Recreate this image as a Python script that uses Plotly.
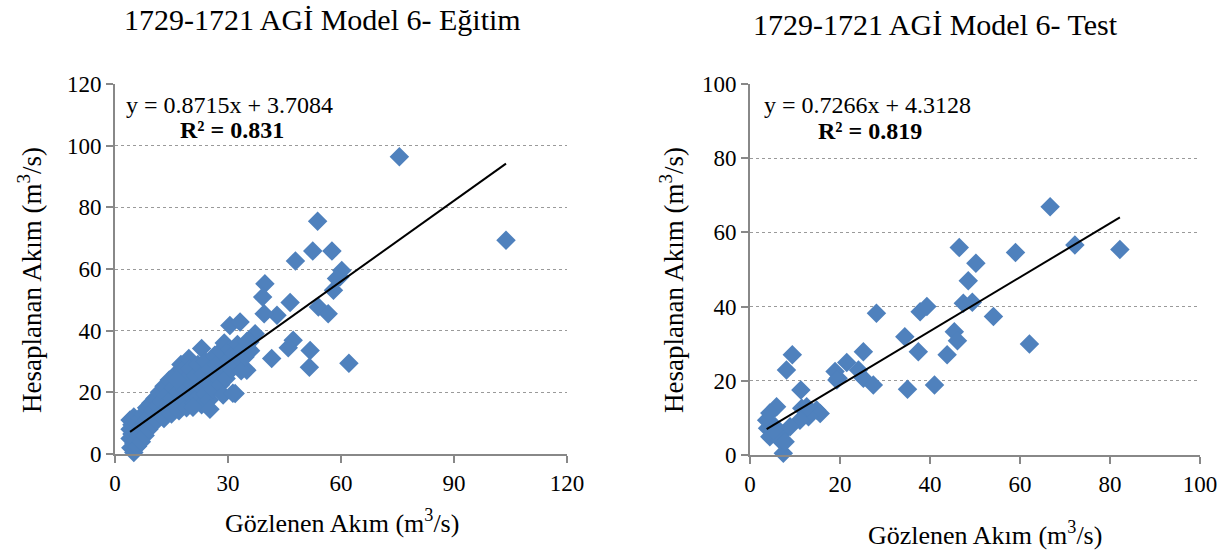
import plotly.graph_objects as go

# ---------------- data ----------------
train_obs = [75.5, 103.8, 53.8, 52.5, 57.6, 47.9, 60.2, 59.7, 58.8, 58.0, 46.5, 54.0, 56.6, 47.3, 46.0,
             51.8, 51.6, 62.1, 43.0, 39.8, 39.2, 39.6, 30.5, 33.2, 37.2, 35.8, 41.6, 23.0, 35.0, 31.9,
             4.0, 4.0, 4.0, 4.2, 4.5, 4.5, 5.0, 5.0, 5.0, 5.2, 5.5, 5.8, 6.0, 6.0, 6.3, 6.8, 7.0, 7.2,
             7.5, 8.0, 8.0, 8.4, 9.0, 9.0, 9.5, 10.0, 10.0, 10.6, 11.0, 11.2, 11.8, 12.0, 12.5, 13.0,
             13.0, 13.6, 14.0, 14.4, 15.0, 15.0, 15.5, 16.0, 16.2, 16.8, 17.0, 17.0, 17.5, 18.0, 18.0,
             18.5, 19.0, 19.0, 19.6, 20.0, 20.0, 20.7, 21.0, 21.5, 22.0, 22.0, 22.6, 23.0, 23.5, 24.0,
             24.0, 24.8, 25.0, 25.2, 26.0, 26.5, 27.0, 27.0, 28.0, 28.0, 28.7, 29.0, 29.5, 30.0, 30.5,
             31.0, 31.5, 32.0, 32.5, 33.0, 33.5, 34.0, 34.5, 35.0, 36.0, 20.7, 25.2, 28.7, 31.3, 16.4]
train_pred = [96.4, 69.3, 75.5, 65.8, 65.8, 62.6, 59.5, 57.4, 56.9, 53.1, 49.1, 47.7, 45.5, 36.9, 34.5,
              33.6, 28.1, 29.4, 45.0, 55.2, 50.9, 45.5, 41.7, 42.8, 39.0, 36.3, 31.0, 34.2, 27.2, 19.6,
              8.0, 5.0, 11.0, 2.0, 9.5, 6.5, 0.5, 3.5, 12.0, 7.5, 4.5, 10.0, 2.5, 8.0, 6.0, 11.5, 4.0, 8.5,
              13.0, 6.0, 10.5, 15.0, 8.0, 12.0, 16.5, 9.5, 14.0, 18.0, 11.0, 15.5, 20.0, 13.0, 17.0, 22.0,
              11.5, 19.0, 15.0, 24.0, 13.0, 18.0, 21.5, 16.0, 26.0, 20.0, 14.0, 23.5, 29.0, 17.5, 27.0,
              21.0, 15.0, 24.5, 31.0, 19.0, 27.5, 22.5, 16.5, 25.5, 18.5, 29.0, 22.0, 16.0, 26.0, 19.5,
              30.0, 23.0, 17.5, 27.5, 21.0, 32.0, 25.0, 29.0, 22.5, 33.5, 27.0, 36.0, 24.5, 30.5, 34.0,
              27.5, 32.5, 29.5, 35.5, 31.0, 27.0, 34.0, 31.5, 36.5, 33.5, 15.2, 14.5, 19.1, 19.7, 24.0]
train_slope, train_intercept, train_r2 = 0.8715, 3.7084, 0.831

test_obs = [66.7, 46.5, 59.0, 72.2, 82.2, 50.2, 48.5, 47.4, 49.4, 54.1, 45.4, 46.1, 43.8, 62.1, 41.0,
            28.1, 37.8, 39.3, 34.4, 37.4, 25.2, 21.5, 24.1, 18.9, 19.6, 25.2, 27.4, 35.0, 9.4, 8.1,
            11.3, 11.5, 14.8, 15.6, 13.0, 11.1, 5.9, 3.7, 3.9, 4.4, 7.0, 7.4, 6.7, 8.9, 5.6, 4.4,
            12.6, 5.2, 7.8, 19.3]
test_pred = [66.9, 55.9, 54.6, 56.6, 55.4, 51.7, 47.0, 40.9, 41.2, 37.3, 33.2, 30.8, 27.0, 29.9, 18.9,
             38.2, 38.6, 40.0, 31.9, 27.8, 27.8, 24.9, 22.9, 22.5, 20.7, 20.7, 18.9, 17.7, 27.0, 22.9,
             17.5, 12.6, 12.1, 11.2, 10.3, 9.4, 13.0, 9.4, 7.2, 4.9, 5.8, 0.5, 4.0, 7.6, 7.6, 11.3,
             13.0, 6.7, 3.6, 20.2]
test_slope, test_intercept, test_r2 = 0.7266, 4.3128, 0.819

left_ticks = [0, 30, 60, 90, 120]
left_yticks = [0, 20, 40, 60, 80, 100, 120]
right_ticks = [0, 20, 40, 60, 80, 100]
right_yticks = [0, 20, 40, 60, 80, 100]

# ---------------- figure ----------------
W, H = 1231, 555
FONT = "Liberation Serif, Times New Roman, serif"
BLUE = "#4F81BD"
GRAY = "#888888"


def px(x):
    return x / W


def py(y):
    return 1 - y / H


fig = go.Figure()

marker = dict(symbol="diamond", size=15, color=BLUE, line=dict(width=0))

fig.add_trace(go.Scatter(x=train_obs, y=train_pred, mode="markers", marker=marker,
                         xaxis="x", yaxis="y", showlegend=False, cliponaxis=False))
tx0, tx1 = min(train_obs), max(train_obs)
fig.add_trace(go.Scatter(x=[tx0, tx1],
                         y=[train_slope * tx0 + train_intercept, train_slope * tx1 + train_intercept],
                         mode="lines", line=dict(color="black", width=2),
                         xaxis="x", yaxis="y", showlegend=False))

fig.add_trace(go.Scatter(x=test_obs, y=test_pred, mode="markers", marker=marker,
                         xaxis="x2", yaxis="y2", showlegend=False, cliponaxis=False))
sx0, sx1 = min(test_obs), max(test_obs)
fig.add_trace(go.Scatter(x=[sx0, sx1],
                         y=[test_slope * sx0 + test_intercept, test_slope * sx1 + test_intercept],
                         mode="lines", line=dict(color="black", width=2),
                         xaxis="x2", yaxis="y2", showlegend=False))

axis_common = dict(showline=True, linecolor=GRAY, linewidth=2, ticks="outside", ticklen=7,
                   tickcolor=GRAY, tickwidth=2, zeroline=False, automargin=False,
                   tickfont=dict(family=FONT, size=23, color="black"))

fig.update_layout(
    width=W, height=H,
    margin=dict(l=0, r=0, t=0, b=0),
    paper_bgcolor="white", plot_bgcolor="white",
    font=dict(family=FONT, color="black"),
    xaxis=dict(domain=[px(115), px(567)], range=[0, 120], tickvals=left_ticks,
               showgrid=False, anchor="y", **axis_common),
    yaxis=dict(domain=[py(454), py(84)], range=[0, 120], tickvals=left_yticks,
               showgrid=True, gridcolor="#9a9a9a", griddash="dot", gridwidth=1,
               anchor="x", **axis_common),
    xaxis2=dict(domain=[px(750), px(1200)], range=[0, 100], tickvals=right_ticks,
                showgrid=False, anchor="y2", **axis_common),
    yaxis2=dict(domain=[py(455), py(84)], range=[0, 100], tickvals=right_yticks,
                showgrid=True, gridcolor="#9a9a9a", griddash="dot", gridwidth=1,
                anchor="x2", **axis_common),
)

ann = []
def text(x, y, s, size, xanchor="center", **kw):
    ann.append(dict(x=px(x), y=py(y), xref="paper", yref="paper", text=s, showarrow=False,
                    xanchor=xanchor, yanchor="middle",
                    font=dict(family=FONT, size=size, color="black"), **kw))

text(322, 20, "1729-1721 AGİ Model 6- Eğitim", 30)
text(935, 25, "1729-1721 AGİ Model 6- Test", 30)
text(342, 521, "Gözlenen Akım (m<sup>3</sup>/s)", 26)
text(985, 533, "Gözlenen Akım (m<sup>3</sup>/s)", 26)
text(30, 280, "Hesaplanan Akım (m<sup>3</sup>/s)", 27, textangle=-90)
text(672, 280, "Hesaplanan Akım (m<sup>3</sup>/s)", 27, textangle=-90)
text(124, 105, f"y = {train_slope}x + {train_intercept}", 24, xanchor="left")
text(178, 130, f"<b>R² = {train_r2}</b>", 24, xanchor="left")
text(762, 105, f"y = {test_slope}x + {test_intercept}", 24, xanchor="left")
text(816, 131, f"<b>R² = {test_r2}</b>", 24, xanchor="left")

fig.update_layout(annotations=ann)

fig.write_html("out.html")
